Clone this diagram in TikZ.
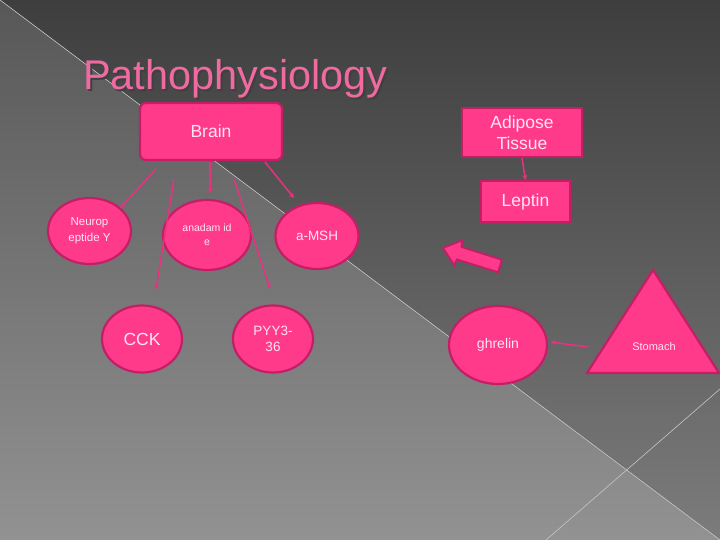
\documentclass[tikz,border=0pt]{standalone}
\usepackage{fontspec}
\setmainfont{Liberation Sans}
\usetikzlibrary{shapes.geometric,arrows.meta}
\definecolor{pinkfill}{HTML}{FF3A8A}
\definecolor{pinkline}{HTML}{C41F66}
\definecolor{arrowpink}{HTML}{E8327F}
\definecolor{txtpink}{HTML}{FFE4F1}
\definecolor{titlepink}{HTML}{F06AA2}
\definecolor{bgA}{HTML}{575757}
\definecolor{bgB}{HTML}{929292}
\definecolor{bgC}{HTML}{3E3E3E}
\definecolor{bgD}{HTML}{7C7C7C}
\begin{document}
\begin{tikzpicture}[x=1pt,y=-1pt,
 box/.style={draw=pinkline, line width=2.2pt, fill=pinkfill, text=txtpink, align=center, inner sep=0pt},
 oval/.style={ellipse, draw=pinkline, line width=2.2pt, fill=pinkfill, text=txtpink, align=center, inner sep=0pt},
 conn/.style={draw=arrowpink, line width=1.5pt, -{Stealth[length=5pt,width=5pt]}},
 fs/.style n args={2}{font=\fontsize{#1}{#2}\selectfont}]
\useasboundingbox (0,0) rectangle (720,540);
\shade[top color=bgA, bottom color=bgB] (0,0) rectangle (720,540);
\shade[top color=bgC, bottom color=bgD] (0,0) -- (720,0) -- (720,540) -- cycle;
\draw[gray!45!white, line width=0.6pt] (0,0) -- (720,540);
\draw[gray!45!white, line width=0.6pt] (546,540) -- (720,389);

% title with shadow
\node[anchor=base west, inner sep=0pt, fs={41.5}{48}, text=titlepink] (title) at (83,90)
 {\rlap{\hspace{2pt}\raisebox{-2pt}{\textcolor{black!75}{Pathophysiology}}}Pathophysiology};

% boxes
\node[box, rounded corners=6pt, minimum width=142pt, minimum height=57pt, fs={17.5}{20}] (brain) at (211,131.5) {Brain};
\node[box, minimum width=120pt, minimum height=49pt, fs={17.5}{21}] (adipose) at (522,132.5) {Adipose\\Tissue};
\node[box, minimum width=89pt, minimum height=41pt, fs={17.5}{20}] (leptin) at (525.5,201.5) {Leptin};

% ellipses
\node[oval, minimum width=83pt, minimum height=66pt, fs={11.5}{16}] (neuro) at (89.5,231) {Neurop\\eptide Y};
\node[oval, minimum width=88pt, minimum height=70pt, fs={10.5}{14}] (anadam) at (207,235) {anadam id\\e};
\node[oval, minimum width=83pt, minimum height=66pt, fs={13.5}{16}] (amsh) at (317,236) {a-MSH};
\node[oval, minimum width=80pt, minimum height=67pt, fs={17.5}{20}] (cck) at (142,339) {CCK};
\node[oval, minimum width=80pt, minimum height=67pt, fs={13.5}{16}] (pyy) at (273,339) {PYY3-\\36};
\node[oval, minimum width=98pt, minimum height=78pt, fs={14}{17}] (ghrelin) at (498,345) {ghrelin};

% stomach triangle
\draw[pinkline, line width=2.2pt, fill=pinkfill, line join=miter] (653,270) -- (719,373) -- (587,373) -- cycle;
\node[text=txtpink, fs={11}{13}] (stomach) at (654,347) {Stomach};

% connector end points
\coordinate (b1) at (156,169);
\coordinate (e1) at (120,208);
\coordinate (b2) at (174,179);
\coordinate (e2) at (156,289);
\coordinate (b3) at (210,162);
\coordinate (e3) at (210,193);
\coordinate (b4) at (234,179);
\coordinate (e4) at (270,289);
\coordinate (b5) at (265,162);
\coordinate (e5) at (294,198);
\coordinate (s1) at (588,347);
\coordinate (g1) at (551,342);

\draw[conn] (b1) -- (e1);
\draw[conn] (b2) -- (e2);
\draw[conn] (b3) -- (e3);
\draw[conn] (b4) -- (e4);
\draw[conn] (b5) -- (e5);
\draw[conn] (adipose.south) -- (leptin.north);
\draw[conn] (s1) -- (g1);

% block arrow
\draw[pinkline, line width=1.8pt, fill=pinkfill, line join=miter]
 (501.96,259.8) -- (461.5,247.0) -- (462.1,240.4) -- (443,248) -- (454.3,265.2) -- (456.8,259.4) -- (498.0,272.2) -- cycle;
\end{tikzpicture}
\end{document}
